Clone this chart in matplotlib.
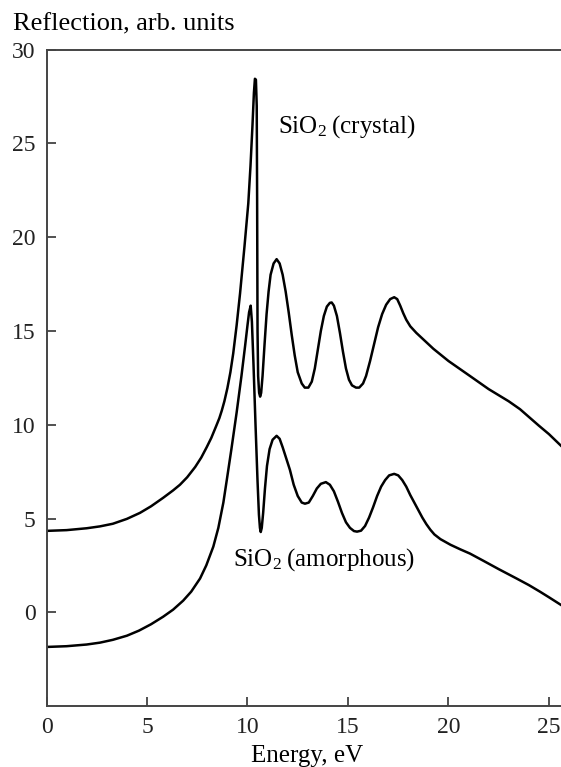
import matplotlib
matplotlib.use("Agg")
import matplotlib.pyplot as plt

plt.rcParams['font.family'] = ['Liberation Serif', 'DejaVu Serif']
plt.rcParams['mathtext.fontset'] = 'custom'
plt.rcParams['mathtext.rm'] = 'Liberation Serif'
plt.rcParams['mathtext.it'] = 'Liberation Serif:italic'

# SiO2 crystal reflection curve
crystal_e = [0, 1, 2, 2.66, 3.3, 4, 4.65, 5.2, 5.8, 6.3, 6.64, 7.0, 7.4, 7.7, 7.97, 8.2, 8.45,
             8.6, 8.72, 8.85, 9.0, 9.15, 9.29, 9.46, 9.63, 9.85, 10.04, 10.15, 10.25, 10.32, 10.37,
             10.42, 10.46, 10.48, 10.5, 10.53, 10.58, 10.63, 10.68, 10.75, 10.85, 10.95, 11.05,
             11.15, 11.3, 11.45, 11.6, 11.75, 11.9, 12.05, 12.2, 12.35, 12.5, 12.7, 12.85, 13.03,
             13.2, 13.35, 13.5, 13.65, 13.8, 13.95, 14.1, 14.19, 14.3, 14.45, 14.6, 14.75, 14.9,
             15.05, 15.2, 15.4, 15.56, 15.75, 15.9, 16.1, 16.3, 16.5, 16.7, 16.9, 17.1, 17.3,
             17.45, 17.6, 17.75, 17.9, 18.1, 18.4, 18.8, 19.25, 20.0, 21.07, 22.0, 23.0, 23.56,
             24.5, 25.0, 25.6]
crystal_r = [4.34, 4.38, 4.48, 4.58, 4.72, 4.98, 5.3, 5.65, 6.1, 6.5, 6.8, 7.2, 7.75, 8.25, 8.8, 9.3, 9.95,
             10.35, 10.75, 11.25, 11.95, 12.8, 13.8, 15.3, 17.0, 19.5, 21.8, 23.8, 26.0, 27.7, 28.45,
             28.4, 27.0, 22.0, 15.0, 12.6, 11.7, 11.5, 11.7, 12.6, 14.3, 15.9, 17.1,
             18.0, 18.6, 18.83, 18.6, 18.0, 17.1, 16.0, 14.8, 13.7, 12.8, 12.2, 11.98, 11.98,
             12.3, 13.0, 14.0, 15.0, 15.8, 16.3, 16.5, 16.52, 16.35, 15.8, 14.9, 13.9, 13.0,
             12.4, 12.1, 11.98, 11.98, 12.2, 12.6, 13.4, 14.3, 15.2, 15.9, 16.4, 16.7, 16.8,
             16.7, 16.35, 15.95, 15.6, 15.25, 14.9, 14.5, 14.05, 13.4, 12.6, 11.9, 11.25, 10.83,
             9.95, 9.5, 8.88]

# SiO2 amorphous reflection curve
amorph_e = [0, 1, 2, 2.66, 3.3, 4, 4.6, 5.2, 5.8, 6.3, 6.8, 7.2, 7.64, 7.95, 8.3, 8.55, 8.8,
            8.97, 9.2, 9.46, 9.7, 9.88, 10.0, 10.08, 10.16, 10.22, 10.3, 10.4, 10.5, 10.57,
            10.62, 10.66, 10.71, 10.78, 10.87, 10.97, 11.1, 11.25, 11.45, 11.6, 11.75, 11.9,
            12.11, 12.3, 12.5, 12.7, 12.86, 13.05, 13.25, 13.45, 13.65, 13.9, 14.1, 14.3, 14.5,
            14.7, 14.9, 15.1, 15.3, 15.45, 15.65, 15.85, 16.05, 16.25, 16.45, 16.65, 16.85,
            17.05, 17.3, 17.5, 17.7, 17.9, 18.1, 18.3, 18.5, 18.7, 18.9, 19.1, 19.3, 19.6,
            20.1, 20.6, 21.07, 21.73, 22.5, 23.39, 24.0, 24.55, 25.0, 25.6]
amorph_r = [-1.85, -1.81, -1.72, -1.62, -1.47, -1.25, -0.98, -0.64, -0.24, 0.14, 0.62, 1.1, 1.8, 2.5, 3.5, 4.5, 5.85,
            7.05, 8.7, 10.65, 12.6, 14.19, 15.3, 16.0, 16.35, 15.5, 13.2, 10.0, 7.0, 5.2,
            4.5, 4.28, 4.5, 5.3, 6.6, 7.8, 8.7, 9.2, 9.41, 9.25, 8.8, 8.3,
            7.6, 6.8, 6.2, 5.85, 5.79, 5.85, 6.2, 6.6, 6.85, 6.94, 6.8, 6.45, 5.9,
            5.3, 4.8, 4.5, 4.33, 4.3, 4.35, 4.6, 5.05, 5.6, 6.2, 6.7, 7.05,
            7.3, 7.38, 7.3, 7.05, 6.7, 6.25, 5.85, 5.45, 5.05, 4.7, 4.4, 4.15, 3.9,
            3.6, 3.35, 3.13, 2.75, 2.3, 1.8, 1.45, 1.1, 0.8, 0.39]

x_ticks = [0, 5, 10, 15, 20, 25]
y_ticks = [0, 5, 10, 15, 20, 25, 30]

fig = plt.figure(figsize=(5.61, 7.67), dpi=100)
ax = fig.add_axes([0.0829, 0.0795, 0.9171, 0.8557])

ax.plot(crystal_e, crystal_r, color='black', lw=1.8, solid_joinstyle='round')
ax.plot(amorph_e, amorph_r, color='black', lw=1.8, solid_joinstyle='round')

ax.set_xlim(0, 25.6)
ax.set_ylim(-5, 30)
ax.set_xticks(x_ticks)
ax.set_yticks(y_ticks)
ax.tick_params(direction='in', length=6.5, width=1.1, labelsize=17, pad=8, colors='#222222')
for side in ['left', 'bottom', 'top']:
    ax.spines[side].set_color('#444444')
    ax.spines[side].set_linewidth(1.4)
ax.spines['right'].set_visible(False)

ax.text(11.5, 25.6, 'SiO$_2$\u2009(crystal)', fontsize=18, va='baseline', ha='left')
ax.text(9.29, 2.49, 'SiO$_2$\u2009(amorphous)', fontsize=18, va='baseline', ha='left')

fig.text(13 / 561, 1 - 30 / 767, 'Reflection, arb. units', fontsize=19, va='baseline', ha='left')
fig.text(307 / 561, 1 - 761.7 / 767, 'Energy, eV', fontsize=18, va='baseline', ha='center')

fig.savefig('out.png', dpi=100)
